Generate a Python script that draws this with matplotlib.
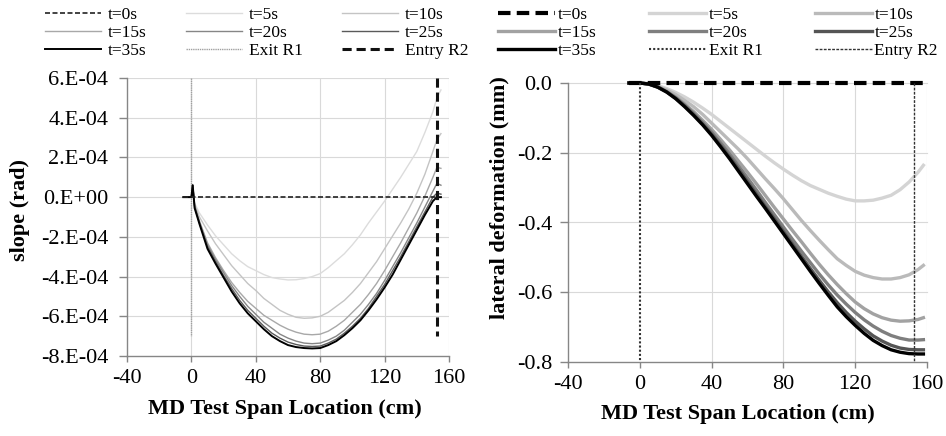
import numpy as np
import matplotlib
matplotlib.use('Agg')
import matplotlib.pyplot as plt

plt.rcParams['font.family'] = ['Liberation Serif', 'DejaVu Serif']
plt.rcParams['axes.unicode_minus'] = False

labels = ['t=0s', 't=5s', 't=10s', 't=15s', 't=20s', 't=25s', 't=35s']

# slope (1E-4 rad) vs span location (cm)
x_slope = [-5, 0, 0.8, 2, 5, 10, 15, 20, 25, 30, 35, 40, 45, 50, 55, 60, 65, 70, 75,
           80, 85, 90, 95, 100, 105, 110, 115, 120, 125, 130, 135, 140, 145, 150, 152.5, 155]
slope = {
    't=5s':  [0, 0, 0.6, -0.3, -0.8, -1.4, -1.95, -2.4, -2.85, -3.2, -3.5, -3.7, -3.9, -4.05,
              -4.12, -4.17, -4.16, -4.1, -4.0, -3.85, -3.55, -3.2, -2.85, -2.4, -1.9, -1.3,
              -0.75, -0.2, 0.4, 1.0, 1.65, 2.3, 3.25, 4.3, 5.0, 5.4],
    't=10s': [0, 0, 0.6, -0.35, -1.0, -1.7, -2.35, -2.9, -3.45, -3.9, -4.35, -4.7, -5.1, -5.4,
              -5.7, -5.9, -6.05, -6.1, -6.08, -6.0, -5.8, -5.5, -5.2, -4.8, -4.35, -3.8,
              -3.25, -2.6, -1.95, -1.3, -0.6, 0.2, 1.15, 2.3, 2.9, 3.2],
    't=15s': [0, 0, 0.6, -0.4, -1.2, -2.3, -3.05, -3.7, -4.3, -4.8, -5.25, -5.6, -5.95, -6.2,
              -6.45, -6.65, -6.8, -6.9, -6.93, -6.9, -6.75, -6.5, -6.2, -5.8, -5.4, -4.9,
              -4.35, -3.7, -3.0, -2.3, -1.55, -0.8, 0.05, 1.0, 1.5, 1.45],
    't=20s': [0, 0, 0.6, -0.45, -1.25, -2.4, -3.15, -3.8, -4.45, -5.0, -5.5, -5.9, -6.3, -6.6,
              -6.9, -7.1, -7.25, -7.35, -7.38, -7.35, -7.2, -7.0, -6.7, -6.3, -5.9, -5.4,
              -4.85, -4.2, -3.5, -2.8, -2.05, -1.3, -0.5, 0.3, 0.7, 0.6],
    't=25s': [0, 0, 0.6, -0.5, -1.3, -2.5, -3.25, -3.95, -4.6, -5.2, -5.7, -6.1, -6.5, -6.85,
              -7.1, -7.3, -7.42, -7.5, -7.52, -7.5, -7.35, -7.15, -6.85, -6.5, -6.1, -5.6,
              -5.0, -4.4, -3.7, -3.0, -2.25, -1.5, -0.75, 0.0, 0.2, 0.15],
    't=35s': [0, 0, 0.6, -0.55, -1.35, -2.6, -3.35, -4.05, -4.75, -5.35, -5.85, -6.25, -6.65,
              -7.0, -7.25, -7.45, -7.55, -7.6, -7.62, -7.6, -7.45, -7.25, -6.95, -6.6, -6.2,
              -5.7, -5.15, -4.55, -3.9, -3.15, -2.4, -1.65, -0.9, -0.2, 0.0, 0.0],
}
slope_t0_x = [-5, 152.5]
slope_t0 = [0, 0]

# lateral deformation (mm) vs span location (cm)
x_def = [-6, 0, 5, 10, 15, 20, 25, 30, 35, 40, 45, 50, 55, 60, 65, 70, 75, 80, 85, 90,
         95, 100, 105, 110, 115, 120, 125, 130, 135, 140, 145, 150, 155, 158]
deform = {
    't=5s':  [0, 0, -0.002, -0.007, -0.016, -0.027, -0.04, -0.055, -0.072, -0.09, -0.11,
              -0.13, -0.15, -0.17, -0.19, -0.21, -0.229, -0.247, -0.264, -0.28, -0.294,
              -0.305, -0.316, -0.325, -0.333, -0.338, -0.338, -0.336, -0.33, -0.322, -0.306,
              -0.284, -0.256, -0.236],
    't=10s': [0, 0, -0.002, -0.009, -0.02, -0.033, -0.05, -0.068, -0.09, -0.115, -0.14,
              -0.165, -0.19, -0.217, -0.246, -0.275, -0.303, -0.332, -0.363, -0.394, -0.423,
              -0.451, -0.478, -0.504, -0.523, -0.54, -0.551, -0.558, -0.562, -0.562, -0.558,
              -0.55, -0.535, -0.523],
    't=15s': [0, 0, -0.003, -0.011, -0.024, -0.040, -0.06, -0.082, -0.107, -0.133, -0.162,
              -0.192, -0.224, -0.256, -0.289, -0.323, -0.357, -0.39, -0.423, -0.455, -0.488,
              -0.52, -0.55, -0.578, -0.604, -0.628, -0.647, -0.662, -0.673, -0.68, -0.683,
              -0.682, -0.678, -0.673],
    't=20s': [0, 0, -0.003, -0.011, -0.025, -0.042, -0.063, -0.087, -0.113, -0.141, -0.172,
              -0.204, -0.238, -0.272, -0.307, -0.343, -0.378, -0.413, -0.448, -0.482, -0.515,
              -0.548, -0.579, -0.608, -0.634, -0.658, -0.679, -0.697, -0.712, -0.724, -0.732,
              -0.737, -0.737, -0.736],
    't=25s': [0, 0, -0.003, -0.012, -0.026, -0.044, -0.066, -0.091, -0.118, -0.147, -0.179,
              -0.212, -0.247, -0.283, -0.319, -0.355, -0.39, -0.426, -0.462, -0.497, -0.532,
              -0.566, -0.599, -0.63, -0.658, -0.683, -0.705, -0.725, -0.74, -0.752, -0.76,
              -0.764, -0.765, -0.765],
    't=35s': [0, 0, -0.003, -0.012, -0.026, -0.045, -0.068, -0.093, -0.12, -0.15, -0.183,
              -0.217, -0.253, -0.289, -0.325, -0.36, -0.396, -0.432, -0.468, -0.504, -0.54,
              -0.575, -0.609, -0.642, -0.67, -0.695, -0.718, -0.738, -0.753, -0.765, -0.772,
              -0.776, -0.777, -0.777],
}
def_t0_x = [-6, 158]
def_t0 = [0, 0]

exit_r1 = 0
entry_r2 = 152.5

xticks = [-40, 0, 40, 80, 120, 160]
slope_ticks = [-8, -6, -4, -2, 0, 2, 4, 6]
slope_ticklabels = ['-8.E-04', '-6.E-04', '-4.E-04', '-2.E-04', '0.E+00', '2.E-04', '4.E-04', '6.E-04']
def_ticks = [-0.8, -0.6, -0.4, -0.2, 0.0]
def_ticklabels = ['-0.8', '-0.6', '-0.4', '-0.2', '0.0']

left_colors = ['#dcdcdc', '#c4c4c4', '#a8a8a8', '#868686', '#5a5a5a', '#000000']
right_colors = ['#d4d4d4', '#bababa', '#a2a2a2', '#7f7f7f', '#555555', '#000000']

fig = plt.figure(figsize=(9.46, 4.36), dpi=100)
ax1 = fig.add_axes([127/946, 80/436, 322/946, 278/436])
ax2 = fig.add_axes([568/946, 74/436, 359/946, 279/436])

grid_c = '#d9d9d9'
spine_c = '#868686'

for ax in (ax1, ax2):
    for s in ('top', 'right'):
        ax.spines[s].set_visible(False)
    for s in ('left', 'bottom'):
        ax.spines[s].set_color(spine_c)
        ax.spines[s].set_linewidth(1.0)
    ax.tick_params(direction='out', length=4.5, width=1, color=spine_c,
                   labelsize=16, pad=5)
    ax.set_xlim(-40, 160)
    ax.set_xticks(xticks)
    ax.set_xticklabels([str(v) for v in xticks])

# ---- left: slope ----
handles1 = []
for i in range(6):
    lab = labels[i + 1]
    lw = 1.4 if lab == 't=35s' else 1.0
    h, = ax1.plot(x_slope, slope[lab], color=left_colors[i], lw=lw, label=lab, zorder=3 + i)
    handles1.append(h)
h0, = ax1.plot(slope_t0_x, slope_t0, color='#222222', lw=1.2, ls=(0, (3, 1.5)), label='t=0s', zorder=10)
hx, = ax1.plot([exit_r1, exit_r1], [6, -7], color='#a0a0a0', lw=1.0, ls=(0, (1, 0.6)), label='Exit R1', zorder=2)
he, = ax1.plot([entry_r2, entry_r2], [6, -7], color='#111111', lw=2.2, ls=(0, (3, 1.6)), label='Entry R2', zorder=11)
ax1.set_ylim(-8, 6)
ax1.set_yticks(slope_ticks)
ax1.set_yticklabels(slope_ticklabels)
ax1.tick_params(axis='y', length=5.5, pad=8)
for v in slope_ticks[1:]:
    ax1.axhline(v, color=grid_c, lw=0.8, zorder=0)
for v in xticks[1:]:
    ax1.axvline(v, color=grid_c, lw=0.8, zorder=0)
ax1.set_ylabel('slope (rad)', fontsize=16, fontweight='bold')
ax1.yaxis.set_label_coords(-0.30, 0.525)
ax1.set_xlabel('MD Test Span Location (cm)', fontsize=16, fontweight='bold')
ax1.xaxis.set_label_coords(0.49, -0.155)

hl = [h0] + handles1 + [hx, he]
order = [0, 3, 6, 1, 4, 7, 2, 5, 8]
ax1.legend([hl[k] for k in order], [hl[k].get_label() for k in order],
           ncol=3, frameon=False, fontsize=12.5, loc='upper left',
           bbox_to_anchor=(45/946, 1 - 7/436), bbox_transform=fig.transFigure,
           borderaxespad=0, borderpad=0, handlelength=3.2, handletextpad=0.4,
           columnspacing=2.3, labelspacing=0.1)

# ---- right: lateral deformation ----
handles2 = []
for i in range(6):
    lab = labels[i + 1]
    h, = ax2.plot(x_def, deform[lab], color=right_colors[i], lw=2.4, label=lab,
                  zorder=3 + i, clip_on=False)
    handles2.append(h)
g0, = ax2.plot(def_t0_x, def_t0, color='#000000', lw=3.0, ls=(0, (3, 1.5)), label='t=0s',
               zorder=10, clip_on=False)
gx, = ax2.plot([exit_r1, exit_r1], [0, -0.8], color='#333333', lw=1.5, ls=(0, (1, 1)),
               label='Exit R1', zorder=11)
ge, = ax2.plot([entry_r2, entry_r2], [0, -0.8], color='#333333', lw=1.0, ls=(0, (2, 1)),
               label='Entry R2', zorder=11)
ax2.set_ylim(-0.8, 0.0)
ax2.set_yticks(def_ticks)
ax2.set_yticklabels(def_ticklabels)
ax2.tick_params(axis='y', length=5.5, pad=6)
for v in def_ticks[1:]:
    ax2.axhline(v, color=grid_c, lw=0.8, zorder=0, clip_on=False)
for v in xticks[2:]:
    ax2.axvline(v, color=grid_c, lw=0.8, zorder=0)
ax2.set_ylabel('lateral deformation (mm)', fontsize=16, fontweight='bold')
ax2.yaxis.set_label_coords(-0.162, 0.588)
ax2.set_xlabel('MD Test Span Location (cm)', fontsize=16, fontweight='bold')
ax2.xaxis.set_label_coords(0.474, -0.15)

gl = [g0] + handles2 + [gx, ge]
ax2.legend([gl[k] for k in order], [gl[k].get_label() for k in order],
           ncol=3, frameon=False, fontsize=12.5, loc='upper left',
           bbox_to_anchor=(498/946, 1 - 7/436), bbox_transform=fig.transFigure,
           borderaxespad=0, borderpad=0, handlelength=3.3, handletextpad=0.15,
           columnspacing=3.0, labelspacing=0.1)

fig.savefig('out.png', dpi=100)
